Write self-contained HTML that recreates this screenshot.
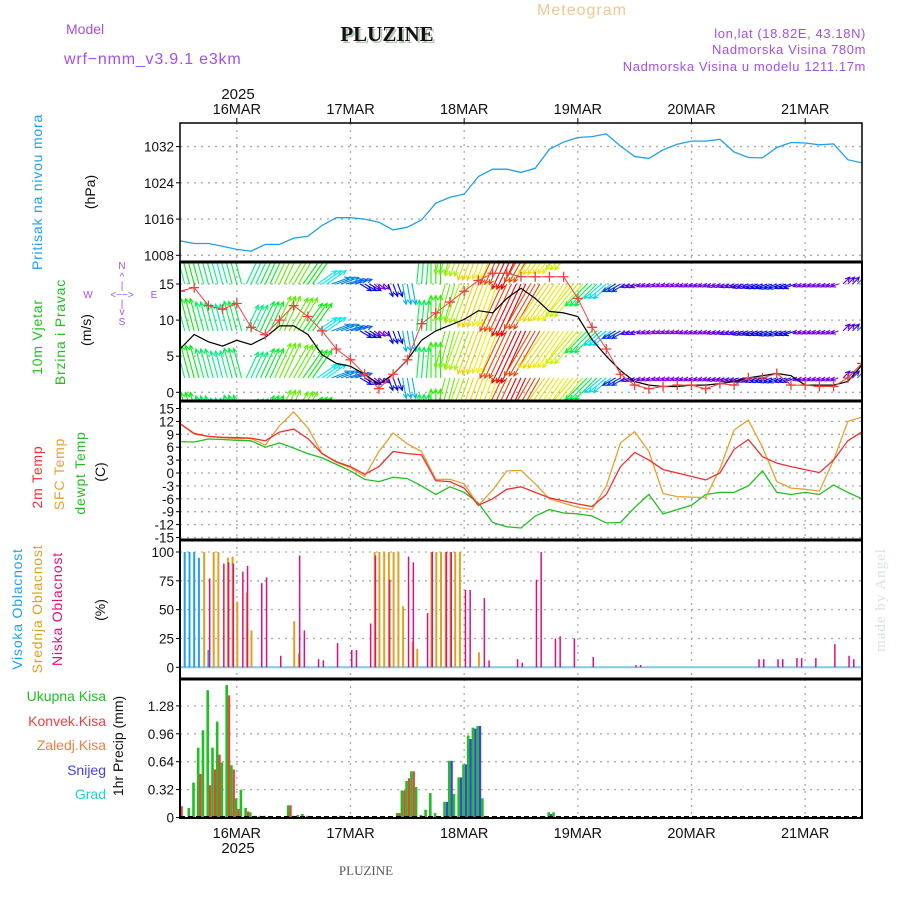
<!DOCTYPE html>
<html><head><meta charset="utf-8"><style>
body{margin:0;background:#fff;}
svg{display:block;font-family:"Liberation Sans",sans-serif;}
</style></head><body>
<svg id="chart" width="900" height="900" viewBox="0 0 900 900" xmlns="http://www.w3.org/2000/svg">
<rect x="0" y="0" width="900" height="900" fill="#fff"/>
<text x="582" y="15" font-size="16" fill="#f0c890" text-anchor="middle" letter-spacing="1">Meteogram</text>
<text x="66" y="34" font-size="14" fill="#a050f0">Model</text>
<text x="64" y="64" font-size="16" fill="#a050f0" letter-spacing="0.8">wrf−nmm_v3.9.1  e3km</text>
<text x="389" y="43" font-size="21" font-weight="bold" font-family="Liberation Serif,serif" fill="#b0c8b0" text-anchor="middle">PLUZINE</text>
<text x="387" y="41" font-size="21" font-weight="bold" font-family="Liberation Serif,serif" fill="#111" text-anchor="middle">PLUZINE</text>
<text x="866" y="38" font-size="13" fill="#a050f0" text-anchor="end" letter-spacing="0.6">lon,lat (18.82E, 43.18N)</text>
<text x="866" y="54" font-size="13" fill="#a050f0" text-anchor="end" letter-spacing="0.6">Nadmorska Visina 780m</text>
<text x="866" y="71" font-size="13" fill="#a050f0" text-anchor="end" letter-spacing="0.6">Nadmorska Visina u modelu 1211.17m</text>
<text x="238" y="99" font-size="15" fill="#111" text-anchor="middle">2025</text>

<text transform="translate(42,192) rotate(-90)" font-size="14" fill="#20a0f0" text-anchor="middle" letter-spacing="0.8">Pritisak na nivou mora</text>
<text transform="translate(95,192) rotate(-90)" font-size="14" fill="#111" text-anchor="middle">(hPa)</text>

<text transform="translate(42,337) rotate(-90)" font-size="14" fill="#20c020" text-anchor="middle" letter-spacing="0.8">10m Vjetar</text>
<text transform="translate(65,332) rotate(-90)" font-size="14" fill="#20c020" text-anchor="middle" letter-spacing="0.8">Brzina i Pravac</text>
<text transform="translate(91,330) rotate(-90)" font-size="14" fill="#111" text-anchor="middle">(m/s)</text>
<g font-size="10" fill="#a050f0" text-anchor="middle">
<text x="122" y="269">N</text><text x="122" y="280">^</text><text x="122" y="289">|</text>
<text x="88" y="298">W</text><text x="122" y="298">&lt;−−&gt;</text><text x="154" y="298">E</text>
<text x="122" y="307">|</text><text x="122" y="315">v</text><text x="122" y="325">S</text>
</g>

<text transform="translate(42,477) rotate(-90)" font-size="14" fill="#f03030" text-anchor="middle" letter-spacing="0.8">2m Temp</text>
<text transform="translate(64,474) rotate(-90)" font-size="14" fill="#e8a030" text-anchor="middle" letter-spacing="0.8">SFC Temp</text>
<text transform="translate(85,473) rotate(-90)" font-size="14" fill="#20c020" text-anchor="middle" letter-spacing="0.8">dewpt Temp</text>
<text transform="translate(105,472) rotate(-90)" font-size="14" fill="#111" text-anchor="middle">(C)</text>

<text transform="translate(22,609) rotate(-90)" font-size="14" fill="#20a0f0" text-anchor="middle" letter-spacing="0.8">Visoka Oblacnost</text>
<text transform="translate(42,609) rotate(-90)" font-size="14" fill="#e0a020" text-anchor="middle" letter-spacing="0.8">Srednja Oblacnost</text>
<text transform="translate(62,609) rotate(-90)" font-size="14" fill="#e0107a" text-anchor="middle" letter-spacing="0.8">Niska Oblacnost</text>
<text transform="translate(105,610) rotate(-90)" font-size="14" fill="#111" text-anchor="middle">(%)</text>

<text x="106" y="701" font-size="14" fill="#20c020" text-anchor="end">Ukupna Kisa</text>
<text x="106" y="726" font-size="14" fill="#f04040" text-anchor="end">Konvek.Kisa</text>
<text x="106" y="750" font-size="14" fill="#f08040" text-anchor="end">Zaledj.Kisa</text>
<text x="106" y="775" font-size="14" fill="#4040f0" text-anchor="end">Snijeg</text>
<text x="106" y="799" font-size="14" fill="#20d0d0" text-anchor="end">Grad</text>
<text transform="translate(123,746) rotate(-90)" font-size="14" fill="#111" text-anchor="middle">1hr Precip (mm)</text>

<text transform="translate(885,600) rotate(-90)" font-size="15" fill="#d8e4d8" font-family="Liberation Serif,serif" text-anchor="middle" letter-spacing="1">made by Angel</text>
<text x="366" y="875" font-size="13" fill="#555" font-family="Liberation Serif,serif" text-anchor="middle">PLUZINE</text>
<text x="238" y="853" font-size="15" fill="#111" text-anchor="middle">2025</text>
<g id="plot"></g>
</svg>
<script>
// ---- data (hourly index from 15MAR 12Z) ----
const dayLabels = ["16MAR","17MAR","18MAR","19MAR","20MAR","21MAR"];
const dayHours = [12,36,60,84,108,132];
const pressure = [1011.2,1010.6,1010.6,1010,1009.3,1008.9,1010.4,1010.4,1011.8,1012.2,1014.6,1016.3,1016.3,1016,1015.3,1013.6,1014.2,1015.8,1019.5,1020.8,1021.5,1025.4,1027,1027,1026.3,1027.2,1031.4,1033,1034,1034.2,1034.8,1032.1,1029.8,1029.4,1031.3,1032.5,1033.2,1033.2,1033.6,1030.8,1029.6,1029.5,1031.8,1032.9,1032.8,1032.4,1032.6,1029.1,1028.4];
const windSpeed = [6,8,7,6.4,7.2,6.6,7.6,9.2,9.2,8,5.2,4,3.6,2.5,1.1,2.5,4.5,7.2,8.5,9.3,10.1,11.3,11,13,14.4,13,11.2,11,10.5,7.3,5,3,1.5,1,0.8,0.8,1,1,1.2,1.5,2,2.3,2.6,2.3,1,1,1,1.5,3.8];
const windGust = [14,14.5,12,11.5,12.3,9,8,10,12,10.5,8.5,6,4.5,2.5,0.5,2.5,4.5,9.5,11,12.5,14,15.5,16.5,16.5,16,16,16,16,13,9,6,2.5,1,0.5,0.8,1,1,0.5,1.2,1,2,2,2.6,1,1,0.8,0.8,2,4];
const windDir = [-15,-15,-15,-15,-15,25,25,25,30,35,55,70,75,120,130,160,170,5,0,195,200,200,200,205,205,210,215,215,220,225,230,240,250,250,250,250,250,250,250,250,250,250,250,250,250,250,250,45,45];
const temp2m = [11.5,9.2,8.5,8.3,8.2,8.1,7.5,9.5,10.2,8,4.5,2.6,1.5,-0.3,1.5,5,4.5,4.2,-1.8,-2,-3.5,-7.5,-6,-3.8,-3.2,-4.5,-5.8,-6.5,-7.2,-7.8,-5,1.5,4.8,3,0.8,0,-0.8,-1.6,0,5.5,7.8,3.8,2.3,1.5,0.8,0.1,3,7.5,9.6];
const tempSfc = [11.5,9,8.5,8.2,8,8,6.5,11,14.2,10.5,4.5,2.5,1.2,-0.8,5,9.3,6.8,5,-1.5,-1.5,-2.5,-7.5,-4,0.5,0.6,-2.5,-6,-7,-8,-8.5,-3,7,9.6,5,-4.8,-5.5,-5.6,-5.7,1,10,12.3,6,-2,-3.5,-3.8,-4.2,3,12,13];
const dewpt = [7.3,7.2,7.9,7.8,7.6,7.5,6,7,5.8,4.5,3.5,2,0.5,-1.5,-2,-1,-1.3,-3,-5,-3.2,-4.5,-7,-11.5,-12.5,-12.8,-10,-8.5,-9.3,-9.5,-10,-11.6,-11.5,-8,-5,-9.5,-8.5,-7.5,-5,-4.5,-4.5,-3,0.5,-4.5,-5,-4.5,-5,-2.8,-4.5,-6];
const highCloudHours = [0,1,2,3,4,6];
const highCloudVals = [100,100,100,100,95,15];
const midCloudHours = [5,7,8,10,11,12,14,15,24,25,41,42,43,44,45,46,47,49,50,53,54,55,56,57,58,59,63];
const midCloudVals = [100,100,100,95,96,57,65,32,40,12,100,100,100,100,100,100,53,22,16,100,100,100,100,100,100,100,13];
const lowCloudHours = [6,9,10,11,13,14,17,18,21,25,26,29,30,33,36,37,40,41,44,48,49,52,53,56,57,60,61,64,65,71,72,75,76,79,80,83,87,96,97,122,123,126,127,130,131,134,138,141,142];
const lowCloudVals = [77,90,91,90,83,88,73,78,10,97,32,7,6,21,15,15,38,97,76,96,91,47,100,100,100,67,67,60,6,7,4,76,100,25,27,25,9,2,2,7,7,7,7,8,8,8,20,10,7];
const totalHours = [0,2,3,4,5,6,7,8,9,10,11,12,13,14,15,16,17,18,23,24,25,26,27,34,46,47,48,49,50,51,52,53,54,56,57,58,59,60,61,62,63,64,78,79];
const totalVals = [0.13,0.11,0.4,0.8,1.0,1.46,0.8,1.1,0.63,1.52,0.6,0.22,0.32,0.11,0.06,0.02,0.02,0.02,0.14,0.02,0.03,0.04,0.02,0.02,0.05,0.31,0.42,0.53,0.35,0.03,0.09,0.28,0.05,0.18,0.65,0.27,0.46,0.61,0.94,1.03,1.05,0.22,0.06,0.06];
const convHours = [0,4,6,7,8,10,11,12,14,23,46,47,48,49];
const convVals = [0.13,0.5,0.37,0.55,0.72,1.4,0.55,0.1,0.07,0.14,0.05,0.31,0.45,0.53];
const snowHours = [56,57,59,60,61,62,63,78];
const snowVals = [0.18,0.65,0.46,0.61,0.9,1.02,1.05,0.04];
const pTicks = [1008,1016,1024,1032];
const wTicks = [0,5,10,15];
const tTicks = [-15,-12,-9,-6,-3,0,3,6,9,12,15];
const cTicks = [0,25,50,75,100];
const rTicks = [0,0.32,0.64,0.96,1.28];

// ---- scales ----
const X0 = 180, X1 = 862;
const xOf = h => X0 + h * (X1 - X0) / 144;
const yP = p => 255.3 - (p - 1008) * 4.53;
const yW = v => 392.3 - v * 7.22;
const yT = t => 473 - t * 4.3;
const yC = c => 667.3 - c * 1.153;
const yR = r => 817.5 - r * 87.2;
const panels = [[123,262,yP,pTicks,'pressure'],[262,401,yW,wTicks,'wind'],[401,540,yT,tTicks,'temperature'],[540,679,yC,cTicks,'cloud'],[679,818,yR,rTicks,'precip']];

const NS = 'http://www.w3.org/2000/svg';
const plot = document.getElementById('plot');
function mk(tag, attrs, parent) {
  const el = document.createElementNS(NS, tag);
  for (const k in attrs) el.setAttribute(k, attrs[k]);
  (parent || plot).appendChild(el);
  return el;
}
const defs = mk('defs', {});
panels.forEach((p, i) => {
  const cp = mk('clipPath', {id: 'clip' + i}, defs);
  mk('rect', {x: X0, y: p[0], width: X1 - X0, height: p[1] - p[0]}, cp);
});

// grids & ticks
panels.forEach((p, i) => {
  const g = mk('g', {});
  
  
  dayHours.forEach(h => {
    mk('line', {x1: xOf(h), x2: xOf(h), y1: p[0], y2: p[1], stroke: '#aaa', 'stroke-width': 1.3, 'stroke-dasharray': '2,5'}, g);
  });
  p[3].forEach(v => {
    const y = p[2](v);
    mk('line', {x1: X0, x2: X1, y1: y, y2: y, stroke: '#aaa', 'stroke-width': 1.3, 'stroke-dasharray': '2,5'}, g);
    mk('line', {x1: X0 - 4, x2: X0, y1: y, y2: y, stroke: '#000'}, g);
    const t = mk('text', {x: X0 - 6, y: y + 5, 'font-size': 13.5, 'text-anchor': 'end', fill: '#111'}, g);
    t.textContent = String(v);
    
    
  });
});
dayLabels.forEach((d, i) => {
  const tk = mk('line', {x1: xOf(dayHours[i]), x2: xOf(dayHours[i]), y1: 118, y2: 123, stroke: '#000'});
  
  
  const t = mk('text', {x: xOf(dayHours[i]), y: 114, 'font-size': 14.5, 'text-anchor': 'middle', fill: '#111'});
  t.textContent = d;
  
  
  const b = mk('text', {x: xOf(dayHours[i]), y: 838, 'font-size': 14.5, 'text-anchor': 'middle', fill: '#111'});
  b.textContent = d;
  
  
});

function line(arr, yf, color, w, clip, name) {
  const pts = arr.map((v, i) => xOf(i * 3).toFixed(1) + ',' + yf(v).toFixed(1)).join(' ');
  const el = mk('polyline', {points: pts, fill: 'none', stroke: color, 'stroke-width': w, 'clip-path': 'url(#clip' + clip + ')'});
  
  
}
// pressure
line(pressure, yP, '#20a0f0', 1.3, 0, 'pressure-line');

// wind arrows
const rows = [21.5, 15, 8.5, 2, -4.5];
const arrowG = mk('g', {'clip-path': 'url(#clip1)', 'stroke-width': 1.1, fill: 'none'});


for (let h = 0; h <= 144; h++) {
  const i = Math.min(windDir.length - 1, Math.round(h / 3));
  const spd = windSpeed[Math.min(windSpeed.length - 1, i)];
  const th = windDir[i] * Math.PI / 180;
  const L = 4 + spd * 3.7;
  const col = 'hsl(' + Math.max(0, 290 - spd * 21) + ',100%,47%)';
  rows.forEach(r => {
    const x0 = xOf(h), y0 = yW(r);
    const x1 = x0 + L * Math.sin(th), y1 = y0 - L * Math.cos(th);
    const a1 = th + Math.PI - 0.45, a2 = th + Math.PI + 0.45;
    const d = 'M' + x0.toFixed(1) + ',' + y0.toFixed(1) + 'L' + x1.toFixed(1) + ',' + y1.toFixed(1) +
      'M' + (x1 + 5 * Math.sin(a1)).toFixed(1) + ',' + (y1 - 5 * Math.cos(a1)).toFixed(1) + 'L' + x1.toFixed(1) + ',' + y1.toFixed(1) +
      'L' + (x1 + 5 * Math.sin(a2)).toFixed(1) + ',' + (y1 - 5 * Math.cos(a2)).toFixed(1);
    const a = mk('path', {d: d, stroke: col}, arrowG);
    
    
  });
}
line(windSpeed, yW, '#000', 1.2, 1, 'wind-speed-line');
line(windGust, yW, '#f04040', 1, 1, 'wind-gust-line');
const gustG = mk('g', {'clip-path': 'url(#clip1)', stroke: '#f04040', 'stroke-width': 1.3});


windGust.forEach((v, i) => {
  const x = xOf(i * 3), y = yW(v);
  const m = mk('path', {d: 'M' + (x - 5) + ',' + y + 'h10M' + x + ',' + (y - 5) + 'v10'}, gustG);
  
  
});

// temperatures
line(dewpt, yT, '#20c020', 1.3, 2, 'dewpoint-line');
line(tempSfc, yT, '#e8a030', 1.3, 2, 'sfc-temp-line');
line(temp2m, yT, '#f03030', 1.3, 2, 'temp-2m-line');

// clouds
const base0 = mk('line', {x1: X0, x2: X1, y1: yC(0), y2: yC(0), stroke: '#80c8f0', 'stroke-width': 2});


function bars(hours, vals, yf, color, off, w, clip, name) {
  hours.forEach((h, i) => {
    const y = yf(vals[i]), y0 = yf(0);
    const r = mk('rect', {x: (xOf(h) + off).toFixed(1), y: y.toFixed(1), width: w, height: Math.max(0, y0 - y).toFixed(1), fill: color, 'clip-path': 'url(#clip' + clip + ')'});
    
    
  });
}
bars(highCloudHours, highCloudVals, yC, '#20a0f0', -1, 2, 3, 'high-cloud-bar');
bars(midCloudHours, midCloudVals, yC, '#e0a020', -0.5, 2, 3, 'mid-cloud-bar');
bars(lowCloudHours, lowCloudVals, yC, '#e0107a', 0.5, 1.5, 3, 'low-cloud-bar');

// precip
bars(totalHours, totalVals, yR, '#20c020', -2, 2.6, 4, 'total-precip-bar');
bars(convHours, convVals, yR, '#f04040', 0.6, 2.2, 4, 'convective-precip-bar');
bars(snowHours, snowVals, yR, '#4040f0', 0.6, 2.2, 4, 'snow-bar');
const pb = mk('line', {x1: X0, x2: X1, y1: 817, y2: 817, stroke: '#000', 'stroke-width': 2, 'stroke-dasharray': '5,3'});



// frames
panels.forEach((p, i) => {
  const f = mk('rect', {x: X0, y: p[0], width: X1 - X0, height: p[1] - p[0], fill: 'none', stroke: '#000', 'stroke-width': i === 0 ? 1.5 : 2});
  
  
});
[262, 401, 540, 679].forEach(y => {
  const s = mk('line', {x1: X0, x2: X1, y1: y, y2: y, stroke: '#000', 'stroke-width': 3});
  
  
});
</script>
</body></html>
